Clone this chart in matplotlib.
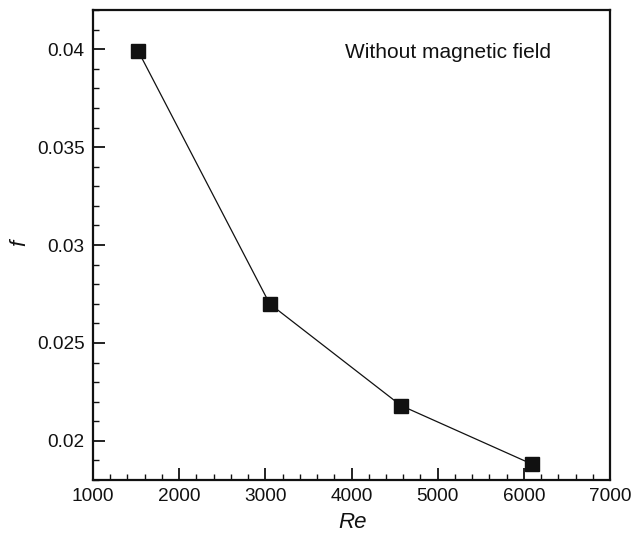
import matplotlib
matplotlib.use('Agg')
import matplotlib.pyplot as plt
from matplotlib.ticker import MultipleLocator

# data
re_vals = [1525, 3050, 4575, 6100]
f_vals = [0.0399, 0.0270, 0.0218, 0.0188]

plt.rcParams['font.family'] = ['Liberation Sans', 'DejaVu Sans']

fig = plt.figure(figsize=(6.43, 5.39), dpi=100)
ax = fig.add_axes([93 / 643, 59 / 539, 517 / 643, 470 / 539])

ax.plot(re_vals, f_vals, color='#111111', lw=0.9, marker='s', markersize=9.5,
        markerfacecolor='#111111', markeredgecolor='#111111')

ax.set_xlim(1000, 7000)
ax.set_ylim(0.018, 0.042)
ax.xaxis.set_major_locator(MultipleLocator(1000))
ax.xaxis.set_minor_locator(MultipleLocator(200))
ax.yaxis.set_major_locator(MultipleLocator(0.005))
ax.yaxis.set_minor_locator(MultipleLocator(0.001))
ax.yaxis.set_major_formatter(plt.FuncFormatter(lambda v, p: f'{v:g}'))

ax.tick_params(which='both', direction='in', top=False, right=False,
               labelsize=13.7, colors='#111111')
ax.tick_params(which='major', length=8.6, width=1.3, pad=6)
ax.tick_params(which='minor', length=4.3, width=1.0)
for s in ax.spines.values():
    s.set_linewidth(1.6)
    s.set_color('#111111')

ax.set_xlabel('Re', fontsize=16, style='italic', color='#111111')
ax.set_ylabel('f', fontsize=16, style='italic', color='#111111')
ax.xaxis.set_label_coords(0.503, -0.068)
ax.yaxis.set_label_coords(-0.122, 0.504)

ax.text(0.487, 0.898, 'Without magnetic field', transform=ax.transAxes,
        fontsize=15, va='baseline', ha='left', color='#111111')

fig.savefig('out.png', dpi=100)
